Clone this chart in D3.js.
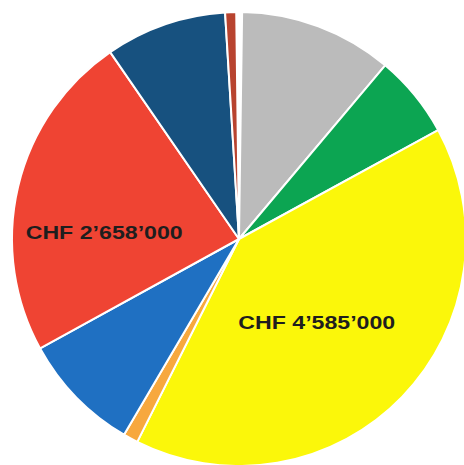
<!DOCTYPE html>
<html>
<head>
<meta charset="utf-8">
<script src="https://cdn.jsdelivr.net/npm/d3@7"></script>
<style>
  html, body { margin: 0; padding: 0; background: #fff; }
  svg { display: block; }
  .label { font-family: "Liberation Sans", Arial, sans-serif; font-weight: bold; fill: #1e1e1e; }
</style>
</head>
<body>
<div id="chart"></div>
<script>
// slices, clockwise from 12 o'clock
const categories = ["gap", "grau", "grün", "gelb", "orange", "blau", "rot", "dunkelblau", "braun"];
const values = [47000, 1240000, 670000, 4585000, 120000, 970000, 2658000, 980000, 89000];
const colors = ["#ffffff", "#bbbbbb", "#0ca552", "#fbf70a", "#f7a83e", "#1f70c2", "#ef4433", "#17517f", "#b8432f"];

// labels shown on two slices
const labelSlices = ["rot", "gelb"];
const labelTexts = ["CHF 2’658’000", "CHF 4’585’000"];
const labelAngles = [273, 137];   // degrees, clockwise from top
const labelRadii = [135, 114];

const width = 464, height = 465;
const cx = 239, cy = 239, radius = 227;

const svg = d3.select("#chart").append("svg")
    .attr("width", width)
    .attr("height", height);

const g = svg.append("g").attr("transform", `translate(${cx},${cy})`);

const data = categories.map((c, i) => ({ name: c, value: values[i], color: colors[i] }));

const pie = d3.pie()
    .sort(null)
    .value(d => d.value)
    .startAngle(-0.7 * Math.PI / 180)
    .endAngle(2 * Math.PI - 0.7 * Math.PI / 180);

const arc = d3.arc().innerRadius(0).outerRadius(radius);

g.selectAll("path")
    .data(pie(data))
    .join("path")
    .attr("d", arc)
    .attr("fill", d => d.data.color)
    .attr("stroke", "#fff")
    .attr("stroke-width", 2)
    .attr("stroke-linejoin", "round");

// slice labels
labelSlices.forEach((s, i) => {
    const a = labelAngles[i] * Math.PI / 180;
    const x = labelRadii[i] * Math.sin(a);
    const y = -labelRadii[i] * Math.cos(a);
    g.append("text")
        .attr("class", "label")
        .attr("x", x)
        .attr("y", y)
        .attr("dy", "0.35em")
        .attr("text-anchor", "middle")
        .attr("font-size", 19)
        .attr("textLength", 157)
        .attr("lengthAdjust", "spacingAndGlyphs")
        .text(labelTexts[i]);
});
</script>
</body>
</html>
